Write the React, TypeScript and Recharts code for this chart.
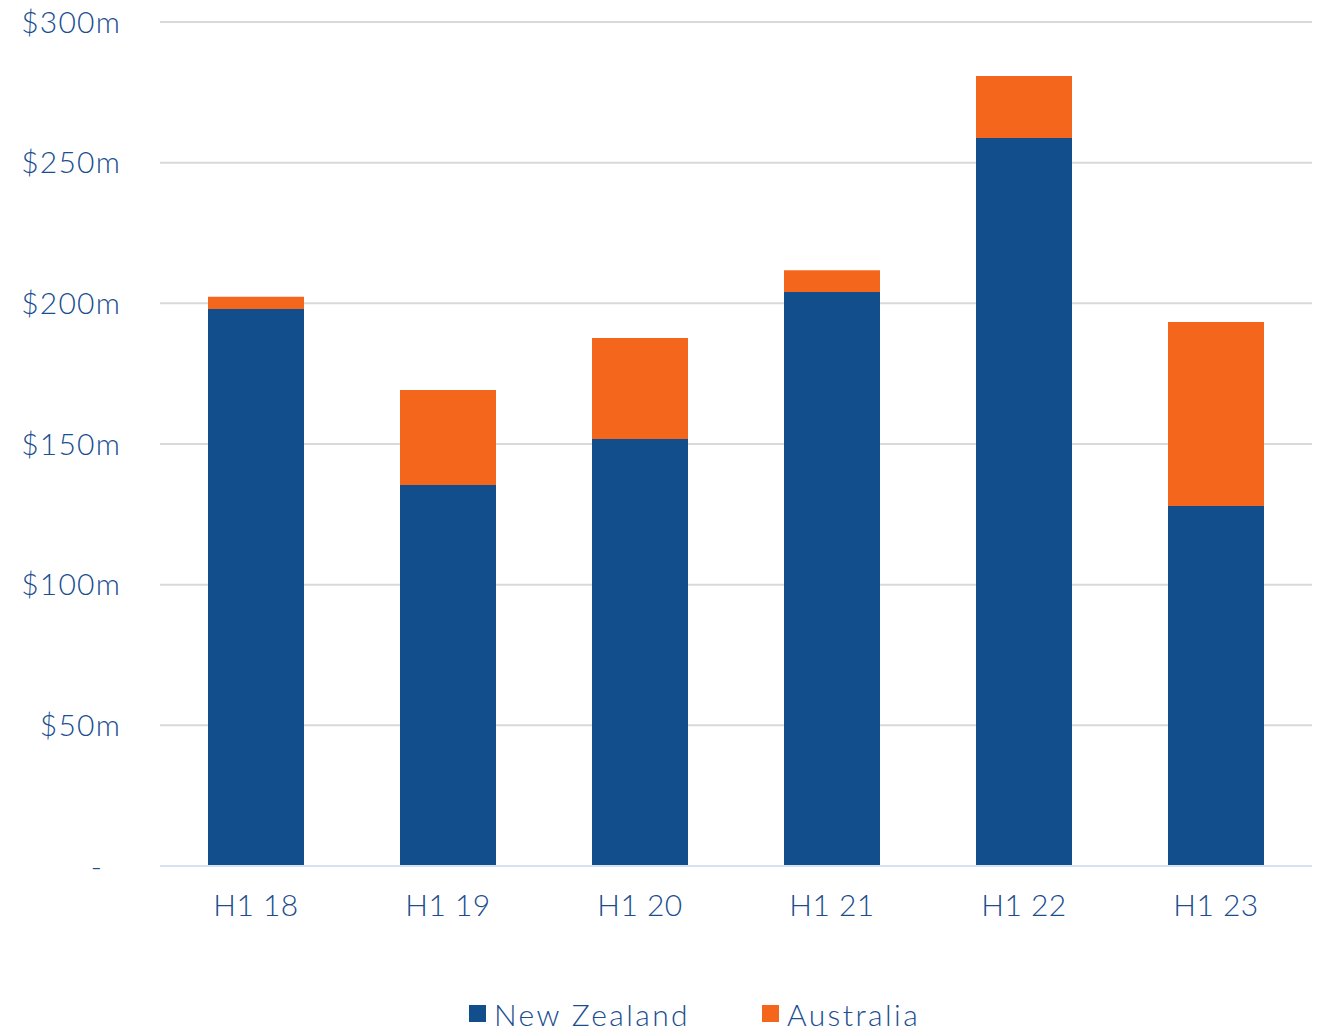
import { BarChart, Bar, XAxis, YAxis, CartesianGrid, Legend } from "recharts";

const periods = ["H1 18", "H1 19", "H1 20", "H1 21", "H1 22", "H1 23"];
const newZealand = [198.0, 135.4, 151.8, 204.0, 258.8, 128.0];
const australia = [4.3, 33.8, 35.9, 7.8, 22.0, 65.4];
const yTicks = [0, 50, 100, 150, 200, 250, 300];

const data = periods.map((p, i) => ({
  period: p,
  nz: newZealand[i],
  au: australia[i],
}));

const TEXT = "#1A4E90";
const NZ = "#134E8C";
const AU = "#F4661B";
const FONT = "Lato, 'Noto Sans', sans-serif";

const YTick = (props: any) => {
  const { x, y, payload } = props;
  const v = payload.value;
  return (
    <text
      x={v === 0 ? x - 18 : x}
      y={y}
      dy="0.355em"
      textAnchor="end"
      fill={TEXT}
      fontSize={30}
      fontWeight={300}
      letterSpacing={1.2}
      fontFamily={FONT}
    >
      {v === 0 ? "-" : `$${v}m`}
    </text>
  );
};

const legendItems = [
  { name: "New Zealand", color: NZ },
  { name: "Australia", color: AU },
];

const LegendContent = () => (
  <div
    style={{
      display: "flex",
      paddingLeft: 469,
      paddingTop: 15,
      height: 35,
      fontFamily: FONT,
      fontSize: 30,
      fontWeight: 300,
      letterSpacing: 2.4,
      color: TEXT,
      lineHeight: "40px",
    }}
  >
    {legendItems.map((it, i) => (
      <span key={it.name} style={{ display: "flex", alignItems: "center", marginRight: i === 0 ? 72 : 0 }}>
        <span style={{ width: 17, height: 17, background: it.color, marginRight: 8, display: "inline-block" }} />
        {it.name}
      </span>
    ))}
  </div>
);

export default function App() {
  return (
    <div style={{ position: "absolute", left: 0, top: 0, background: "#fff" }}>
      <BarChart
        width={1321}
        height={1031}
        data={data}
        margin={{ top: 22, right: 9, left: 0, bottom: 0 }}
        barCategoryGap="25%"
      >
        <CartesianGrid stroke="#D9D9D9" strokeWidth={2} vertical={false} />
        <XAxis
          dataKey="period"
          height={115}
          tickSize={0}
          tickMargin={29}
          axisLine={{ stroke: "#D6E2F3", strokeWidth: 2 }}
          tick={{ fontSize: 30, fill: TEXT, fontFamily: FONT, fontWeight: 300, letterSpacing: 0.5 }}
        />
        <YAxis
          width={160}
          domain={[0, 300]}
          ticks={yTicks}
          tickSize={0}
          tickMargin={39}
          axisLine={false}
          tickLine={false}
          tick={<YTick />}
        />
        <Legend verticalAlign="bottom" height={50} content={<LegendContent />} />
        <Bar dataKey="nz" name="New Zealand" stackId="a" fill={NZ} isAnimationActive={false} />
        <Bar dataKey="au" name="Australia" stackId="a" fill={AU} isAnimationActive={false} />
      </BarChart>
    </div>
  );
}
